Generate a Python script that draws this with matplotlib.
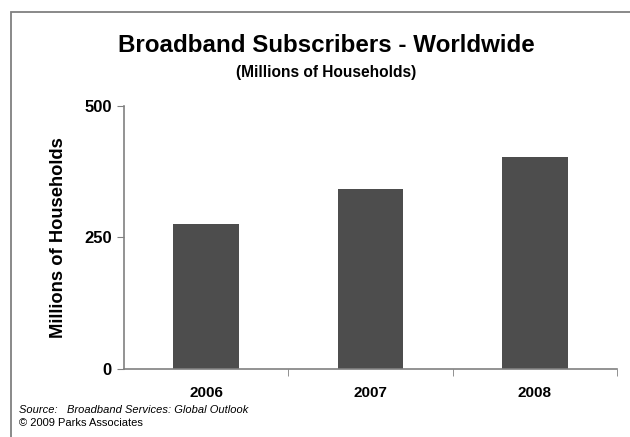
import matplotlib.pyplot as plt
from matplotlib.patches import Rectangle

years = ['2006', '2007', '2008']
subscribers = [275, 341, 402]
y_ticks = [0, 250, 500]

plt.rcParams['font.family'] = ['Liberation Sans', 'DejaVu Sans']

fig = plt.figure(figsize=(6.3, 4.37), dpi=100)
ax = fig.add_axes([0.197, 0.1556, 0.782, 0.6025])

pos = list(range(len(years)))
ax.bar(pos, subscribers, width=0.4, color='#4d4d4d', zorder=2)

ax.set_xlim(-0.5, len(years) - 0.5)
ax.set_ylim(0, 500)
ax.set_yticks(y_ticks)
ax.set_yticklabels([str(v) for v in y_ticks], fontsize=12, fontweight='bold')

# category labels in the middle, tick marks on the boundaries
ax.set_xticks(pos)
ax.set_xticklabels(years, fontsize=11, fontweight='bold')
ax.tick_params(axis='x', length=0, pad=12)
ax.set_xticks([0.5, 1.5, 2.5], minor=True)
ax.tick_params(axis='x', which='minor', length=5, color='#808080', direction='out')
ax.tick_params(axis='y', length=5, color='#808080', direction='out', pad=4)

for side in ['top', 'right']:
    ax.spines[side].set_visible(False)
for side in ['left', 'bottom']:
    ax.spines[side].set_color('#808080')
    ax.spines[side].set_linewidth(1.2)

ax.set_ylabel('Millions of Households', fontsize=13.2, fontweight='bold', labelpad=12)

fig.text(0.518, 0.897, 'Broadband Subscribers - Worldwide', ha='center', va='center',
         fontsize=17.4, fontweight='bold')
fig.text(0.518, 0.833, '(Millions of Households)', ha='center', va='center',
         fontsize=11.2, fontweight='bold')

fig.text(0.030, 0.062, 'Source:   Broadband Services: Global Outlook', fontsize=8,
         style='italic', va='center')
fig.text(0.030, 0.031, '\u00a9 2009 Parks Associates', fontsize=8, va='center')

# outer frame, cut off at right and bottom edges
fig.patches.append(Rectangle((11 / 630, -0.1), 1.2, 1 - 12 / 437 + 0.1,
                             transform=fig.transFigure, fill=False,
                             edgecolor='#808080', linewidth=1.3))

fig.savefig('out.png', dpi=100)
